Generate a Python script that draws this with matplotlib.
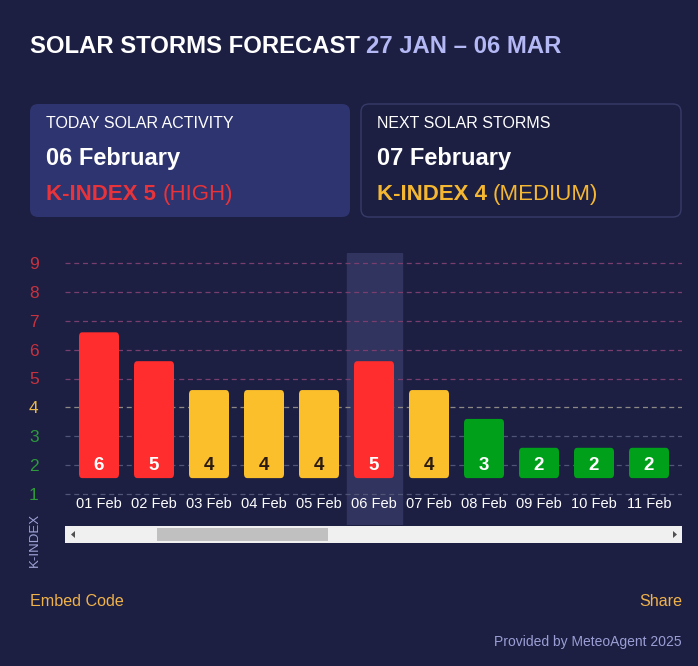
import matplotlib
matplotlib.use('Agg')
import matplotlib.pyplot as plt
from matplotlib.patches import FancyBboxPatch, Rectangle, Polygon

plt.rcParams['font.family'] = ['Liberation Sans', 'DejaVu Sans']

# --- data ---
dates = ['01 Feb', '02 Feb', '03 Feb', '04 Feb', '05 Feb', '06 Feb',
         '07 Feb', '08 Feb', '09 Feb', '10 Feb', '11 Feb']
kindex = [6, 5, 4, 4, 4, 5, 4, 3, 2, 2, 2]
today_idx = 5
y_levels = [1, 2, 3, 4, 5, 6, 7, 8, 9]

title_main = 'SOLAR STORMS FORECAST'
title_range = '27 JAN – 06 MAR'
today_card = ('TODAY SOLAR ACTIVITY', '06 February', 'K-INDEX 5', '(HIGH)')
next_card = ('NEXT SOLAR STORMS', '07 February', 'K-INDEX 4', '(MEDIUM)')

BG = '#1c1f42'
RED = '#ff2d2d'
YELLOW = '#fbbf2c'
GREEN = '#00a01a'


def level_color(k):
    if k >= 5:
        return RED
    if k == 4:
        return YELLOW
    return GREEN


def tick_color(k):
    if k >= 5:
        return '#c8323f'
    if k == 4:
        return '#e8b84a'
    return '#2d9a3c'


def grid_color(k):
    if k >= 5:
        return '#7a3e6e'
    if k == 4:
        return '#8d8a86'
    return '#505678'


W, H = 698, 666
fig = plt.figure(figsize=(W / 100, H / 100), dpi=100)
fig.patch.set_facecolor(BG)

# overlay in pixel coordinates for the page decorations
ov = fig.add_axes([0, 0, 1, 1])
ov.set_xlim(0, W)
ov.set_ylim(H, 0)
ov.axis('off')
ov.set_zorder(0)
renderer = fig.canvas.get_renderer()


def put_runs(x, y, runs, **kw):
    # draw pieces of text one after another on the same baseline
    for s, color, weight, size in runs:
        t = ov.text(x, y, s, color=color, fontweight=weight, fontsize=size,
                    va='baseline', ha='left', **kw)
        bb = t.get_window_extent(renderer)
        x = bb.x1
    return x


put_runs(30, 53, [(title_main + ' ', 'white', 'bold', 17.2),
                  (title_range, '#b4b8f4', 'bold', 17.2)])

# cards
ov.add_patch(FancyBboxPatch((30, 104), 320, 113,
                            boxstyle='round,pad=0,rounding_size=8',
                            facecolor='#2e346f', edgecolor='none'))
ov.add_patch(FancyBboxPatch((361, 104), 320, 113,
                            boxstyle='round,pad=0,rounding_size=8',
                            facecolor=BG, edgecolor='#363b68', linewidth=1))

for x0, card, col in [(46, today_card, '#e8333a'), (377, next_card, '#f5b731')]:
    ov.text(x0, 124, card[0], color='white', fontsize=11.5, va='center')
    ov.text(x0, 158, card[1], color='white', fontsize=17, fontweight='bold', va='center')
    put_runs(x0, 200, [(card[2] + ' ', col, 'bold', 16), (card[3], col, 'normal', 16)])

# scrollbar
ov.add_patch(Rectangle((65, 526), 617, 17, facecolor='#f0f0f0', edgecolor='none'))
ov.add_patch(Rectangle((157, 528), 171, 13, facecolor='#c0c0c0', edgecolor='none'))
ov.add_patch(Polygon([[75, 531], [75, 538], [71, 534.5]], facecolor='#505050'))
ov.add_patch(Polygon([[673, 531], [673, 538], [677, 534.5]], facecolor='#505050'))

ov.text(35, 540, 'K-INDEX', rotation=90, color='#9fa3d6', fontsize=9.5,
        ha='center', va='center')

ov.text(30, 601, 'Embed Code', color='#f0b24a', fontsize=11.6, va='center')
ov.text(682, 601, 'Share', color='#f0b24a', fontsize=11.6, va='center', ha='right')
ov.text(682, 642, 'Provided by MeteoAgent 2025', color='#9a9ed4', fontsize=10,
        va='center', ha='right')

# --- chart ---
px_per_unit = 28.875
ax = fig.add_axes([65 / W, 1 - 525 / H, 617 / W, 272 / H])
ax.set_zorder(1)
ax.set_facecolor('none')
ax.set_xlim(-34 / 55, 583 / 55)
ax.set_ylim(1 - 31 / px_per_unit, 9 + 10 / px_per_unit)
for s in ax.spines.values():
    s.set_visible(False)

for k in y_levels:
    ax.axhline(k, color=grid_color(k), linestyle=(0, (4, 3)), linewidth=0.9, zorder=1)

ax.axvspan(today_idx - 0.5, today_idx + 0.5, color='#31345e', zorder=0)

x = list(range(len(dates)))
base = 1.55
lift = 0.6
bw = 40 / 55
for xi, k in zip(x, kindex):
    # bar with slightly rounded corners
    ax.add_patch(FancyBboxPatch((xi - bw / 2, base), bw, k + lift - base,
                                boxstyle='round,pad=0,rounding_size=0.06',
                                mutation_aspect=2.5,
                                facecolor=level_color(k), edgecolor='none', zorder=2))
    ax.text(xi, 2, str(k), ha='center', va='center', fontsize=13.5, fontweight='bold',
            color='#2a1a10' if k == 4 else 'white', zorder=3)

ax.set_xticks(x)
ax.set_xticklabels(dates, color='white', fontsize=10.5)
ax.tick_params(axis='x', length=0, pad=-20)

ax.set_yticks(y_levels)
ax.set_yticklabels([str(k) for k in y_levels], fontsize=12.5)
for lbl, k in zip(ax.get_yticklabels(), y_levels):
    lbl.set_color(tick_color(k))
ax.tick_params(axis='y', length=0, pad=19)

fig.savefig('out.png', dpi=100, facecolor=BG)
